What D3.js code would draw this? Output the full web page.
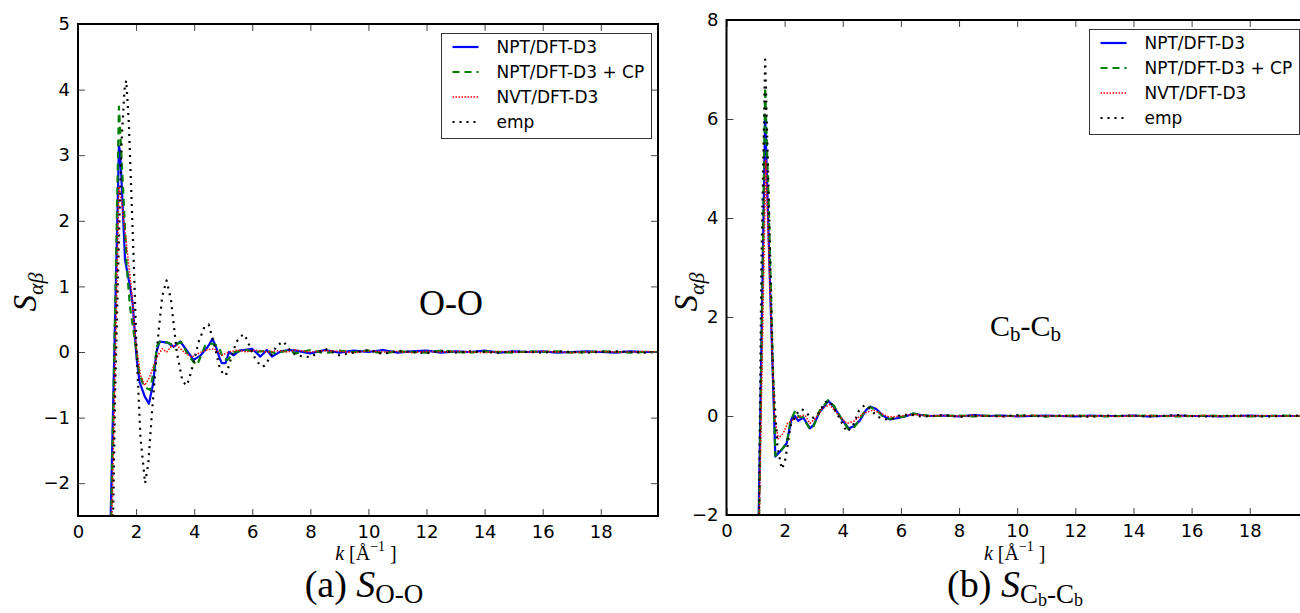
<!DOCTYPE html>
<html>
<head>
<meta charset="utf-8">
<script src="https://cdn.jsdelivr.net/npm/d3@7"></script>
<style>
body { margin: 0; background: #fff; }
svg text { font-family: "DejaVu Sans", sans-serif; }
svg text.serif { font-family: "Liberation Serif", "DejaVu Serif", serif; }
</style>
</head>
<body>
<script>
// values, k in 1/Angstrom
var xTicks = [0, 2, 4, 6, 8, 10, 12, 14, 16, 18];
var yTicksOO = [-2, -1, 0, 1, 2, 3, 4, 5];
var yTicksCC = [-2, 0, 2, 4, 6, 8];
var seriesNames = ["NPT/DFT-D3", "NPT/DFT-D3 + CP", "NVT/DFT-D3", "emp"];

// common k grid for the flat tails
var tailK = [7.5, 8, 8.5, 9, 9.5, 10, 10.5, 11, 11.5, 12, 12.5, 13, 13.5, 14, 14.5, 15, 15.5, 16, 16.5, 17, 17.5, 18, 18.5, 19, 19.5, 19.97];

// ---- O-O panel ----
var blueOO = [[1.05,-4.0],[1.41,3.14],[1.45,3.05],[1.5,2.6],[1.62,1.4],[1.79,1.0],[1.88,0.75],[2.02,-0.1],[2.12,-0.46],[2.3,-0.68],[2.44,-0.79],[2.58,-0.5],[2.7,0.0],[2.81,0.16],[2.95,0.15],[3.1,0.14],[3.3,0.08],[3.52,0.16],[3.7,0.05],[3.98,-0.12],[4.2,-0.06],[4.38,0.03],[4.5,0.1],[4.63,0.2],[4.75,0.08],[4.88,-0.1],[4.95,-0.17],[5.08,-0.17],[5.2,0.0],[5.36,-0.05],[5.55,0.02],[5.72,0.03],[5.99,0.05],[6.28,-0.07],[6.5,0.03],[6.68,-0.07],[6.98,0.01],[7.25,0.03]];
var blueOOtail = [0.02,-0.02,0.03,-0.01,0.02,0.0,0.03,-0.01,0.01,0.02,-0.01,0.01,0.0,0.02,-0.01,0.01,0.0,0.01,-0.01,0.0,0.01,0.0,-0.01,0.01,0.0,0.0];

var greenOO = [[1.08,-4.0],[1.41,3.74],[1.56,2.42],[1.68,1.3],[1.79,0.69],[1.97,0.13],[2.1,-0.3],[2.23,-0.48],[2.35,-0.55],[2.49,-0.58],[2.6,-0.3],[2.73,0.1],[2.85,0.17],[3.1,0.14],[3.3,0.1],[3.55,0.15],[3.8,-0.05],[3.98,-0.15],[4.1,-0.2],[4.38,0.1],[4.6,0.13],[4.84,0.09],[5.0,-0.1],[5.15,-0.12],[5.4,0.0],[5.8,0.03],[6.1,0.0],[6.5,0.02],[6.8,-0.02],[7.2,0.02]];
var greenOOtail = [-0.02,0.03,-0.02,0.02,0.0,0.02,-0.02,0.01,0.0,-0.01,0.02,0.0,-0.01,0.01,0.0,-0.01,0.01,0.0,0.01,-0.01,0.0,0.01,0.0,-0.01,0.0,0.0];

var redOO = [[1.1,-4.0],[1.41,2.52],[1.5,2.3],[1.68,1.6],[1.85,0.9],[2.0,0.1],[2.15,-0.35],[2.29,-0.51],[2.45,-0.4],[2.6,-0.22],[2.75,-0.05],[2.9,0.05],[3.05,0.0],[3.2,0.08],[3.4,0.1],[3.65,0.0],[3.9,-0.08],[4.15,-0.02],[4.4,0.03],[4.7,0.05],[4.95,-0.05],[5.2,0.0],[5.5,0.03],[5.8,0.0],[6.1,0.03],[6.5,0.0],[6.9,0.02],[7.2,0.0]];
var redOOtail = [0.03,0.0,0.02,0.01,-0.01,0.02,0.0,0.01,-0.01,0.01,0.0,0.01,0.0,-0.01,0.01,0.0,0.0,0.01,0.0,-0.01,0.0,0.01,0.0,0.0,0.01,0.0];

var empOO = [[1.15,-4.0],[1.28,-0.6],[1.39,1.4],[1.5,3.2],[1.6,4.0],[1.66,4.14],[1.75,3.5],[1.91,1.5],[2.02,0.0],[2.15,-1.3],[2.31,-2.0],[2.42,-1.7],[2.55,-0.9],[2.75,0.2],[2.9,0.85],[3.05,1.09],[3.2,0.8],[3.4,0.0],[3.6,-0.45],[3.75,-0.51],[3.9,-0.3],[4.15,0.15],[4.35,0.38],[4.5,0.42],[4.7,0.1],[4.9,-0.28],[5.09,-0.36],[5.3,-0.05],[5.45,0.15],[5.6,0.24],[5.73,0.27],[5.9,0.1],[6.1,-0.1],[6.3,-0.22],[6.43,-0.21],[6.65,-0.05],[6.85,0.1],[7.08,0.16],[7.25,0.05]];
var empOOtail = [-0.05,-0.08,0.05,-0.05,-0.01,0.03,-0.03,0.02,0.0,-0.02,0.02,-0.01,0.01,0.0,-0.01,0.01,0.0,-0.01,0.01,0.0,-0.01,0.0,0.01,0.0,-0.01,0.0];

// ---- Cb-Cb panel ----
var blueCC = [[1.08,-3.0],[1.33,6.07],[1.5,2.6],[1.68,-0.82],[1.9,-0.68],[2.07,-0.55],[2.24,-0.05],[2.35,0.0],[2.47,-0.1],[2.64,-0.03],[2.87,-0.25],[3.0,-0.18],[3.2,0.08],[3.35,0.18],[3.5,0.31],[3.7,0.18],[3.95,-0.05],[4.2,-0.25],[4.4,-0.2],[4.6,-0.08],[4.8,0.12],[4.94,0.19],[5.15,0.14],[5.4,0.0],[5.63,-0.07],[5.9,-0.04],[6.2,0.0],[6.43,0.05],[6.7,0.02],[7.0,0.0]];
var blueCCtail = [0.01,-0.01,0.02,0.0,0.01,-0.01,0.0,0.01,0.0,-0.01,0.01,0.0,0.0,0.01,-0.01,0.0,0.01,0.0,0.0,-0.01,0.0,0.01,0.0,0.0,0.0,0.0];

var greenCC = [[1.1,-3.0],[1.33,6.63],[1.45,4.3],[1.55,2.0],[1.68,-0.8],[1.9,-0.68],[2.07,-0.55],[2.2,-0.1],[2.36,0.1],[2.5,-0.02],[2.64,-0.03],[2.87,-0.27],[3.0,-0.2],[3.2,0.1],[3.5,0.32],[3.7,0.2],[3.95,-0.05],[4.2,-0.27],[4.4,-0.22],[4.6,-0.05],[4.8,0.14],[4.94,0.18],[5.15,0.12],[5.4,-0.02],[5.63,-0.06],[5.9,-0.03],[6.2,0.0],[6.43,0.05],[6.7,0.02],[7.0,0.0]];
var greenCCtail = [0.0,0.01,-0.01,0.01,0.0,0.0,0.01,-0.01,0.0,0.01,0.0,-0.01,0.0,0.0,0.01,0.0,-0.01,0.0,0.01,0.0,0.0,-0.01,0.0,0.01,0.0,0.0];

var redCC = [[1.1,-3.0],[1.35,5.18],[1.5,2.5],[1.65,0.0],[1.78,-0.46],[1.95,-0.35],[2.1,-0.15],[2.3,-0.07],[2.55,0.0],[2.7,0.02],[2.87,-0.15],[3.05,-0.05],[3.3,0.15],[3.55,0.23],[3.8,0.05],[4.14,-0.15],[4.4,-0.1],[4.7,0.05],[5.05,0.12],[5.3,0.05],[5.6,-0.02],[6.0,0.0],[6.4,0.03],[7.0,0.0]];
var redCCtail = [0.01,0.0,0.01,0.0,-0.01,0.0,0.01,0.0,0.0,0.01,0.0,0.0,-0.01,0.0,0.01,0.0,0.0,0.0,0.01,0.0,0.0,0.0,0.01,0.0,0.0,0.0];

var empCC = [[1.1,-3.0],[1.2,3.0],[1.33,7.2],[1.45,4.5],[1.6,0.8],[1.75,-0.6],[1.9,-1.07],[2.0,-0.95],[2.1,-0.6],[2.2,-0.2],[2.4,0.04],[2.59,0.14],[2.75,0.06],[2.95,-0.05],[3.15,0.05],[3.4,0.28],[3.55,0.3],[3.8,0.05],[4.14,-0.32],[4.35,-0.2],[4.55,0.1],[4.75,0.22],[4.95,0.15],[5.15,0.0],[5.35,-0.05],[5.6,-0.08],[5.95,0.01],[6.3,0.03],[6.7,-0.01],[7.1,0.0]];
var empCCtail = [0.02,-0.02,0.01,0.0,-0.01,0.02,0.0,-0.01,0.01,0.0,-0.02,0.01,0.0,0.01,-0.01,0.0,0.02,0.0,-0.01,0.0,0.01,0.0,-0.01,0.0,0.01,0.0];

function withTail(head, tail) {
    return head.concat(tailK.map(function(k, i) { return [k, tail[i]]; }));
}

// line styles in legend order
var styles = [
    {color: "#0000ff", width: 2.2, dash: null},
    {color: "#008000", width: 2.2, dash: "7,5"},
    {color: "#ff0000", width: 1.5, dash: "1.5,1.5"},
    {color: "#000000", width: 2.2, dash: "2,5"}
];

var svg = d3.select("body")
    .append("svg")
    .attr("width", 1300)
    .attr("height", 613);

var minus = function(d) { return d < 0 ? "\u2212" + Math.abs(d) : "" + d; };

function drawPanel(p) {
    var x = d3.scaleLinear().domain([0, 19.97]).range([p.left, p.right]);
    var y = d3.scaleLinear().domain(p.ydom).range([p.bottom, p.top]);

    var clipId = "clip-" + p.id;
    svg.append("clipPath").attr("id", clipId)
        .append("rect")
        .attr("x", p.left).attr("y", p.top)
        .attr("width", p.right - p.left).attr("height", p.bottom - p.top);

    var line = d3.line()
        .x(function(d) { return x(d[0]); })
        .y(function(d) { return y(d[1]); });

    var g = svg.append("g").attr("clip-path", "url(#" + clipId + ")");
    p.series.forEach(function(s, i) {
        g.append("path")
            .attr("d", line(s))
            .attr("fill", "none")
            .attr("stroke", styles[i].color)
            .attr("stroke-width", styles[i].width)
            .attr("stroke-dasharray", styles[i].dash)
            .attr("stroke-linejoin", "round");
    });

    // ticks point inward on all four sides
    svg.append("g")
        .attr("transform", "translate(0," + p.bottom + ")")
        .call(d3.axisBottom(x).tickValues(xTicks).tickSize(-7).tickPadding(8).tickFormat(minus))
        .call(function(a) {
            a.select(".domain").remove();
            a.selectAll("line").attr("stroke", "#444");
            a.selectAll("text").attr("font-size", 18).attr("fill", "#000").attr("dy", "0.75em")
                .attr("font-family", "DejaVu Sans");
        });
    svg.append("g")
        .attr("transform", "translate(0," + p.top + ")")
        .call(d3.axisTop(x).tickValues(xTicks).tickSize(-7).tickFormat(""))
        .call(function(a) { a.select(".domain").remove(); a.selectAll("line").attr("stroke", "#444"); });
    svg.append("g")
        .attr("transform", "translate(" + p.left + ",0)")
        .call(d3.axisLeft(y).tickValues(p.yticks).tickSize(-7).tickPadding(8).tickFormat(minus))
        .call(function(a) {
            a.select(".domain").remove();
            a.selectAll("line").attr("stroke", "#444");
            a.selectAll("text").attr("font-size", 18).attr("fill", "#000")
                .attr("font-family", "DejaVu Sans");
        });
    svg.append("g")
        .attr("transform", "translate(" + p.right + ",0)")
        .call(d3.axisRight(y).tickValues(p.yticks).tickSize(-7).tickFormat(""))
        .call(function(a) { a.select(".domain").remove(); a.selectAll("line").attr("stroke", "#444"); });

    svg.append("rect")
        .attr("x", p.left).attr("y", p.top)
        .attr("width", p.right - p.left).attr("height", p.bottom - p.top)
        .attr("fill", "none").attr("stroke", "#000").attr("stroke-width", 2);

    // legend
    var lg = svg.append("g").attr("transform", "translate(" + p.legend[0] + "," + p.legend[1] + ")");
    lg.append("rect")
        .attr("width", 210).attr("height", 105)
        .attr("fill", "#fff").attr("stroke", "#333").attr("stroke-width", 1);
    seriesNames.forEach(function(name, i) {
        var yy = 13.5 + i * 25;
        lg.append("line")
            .attr("x1", 11).attr("x2", 37).attr("y1", yy).attr("y2", yy)
            .attr("stroke", styles[i].color)
            .attr("stroke-width", styles[i].width)
            .attr("stroke-dasharray", styles[i].dash);
        lg.append("text")
            .attr("x", 55).attr("y", yy).attr("dy", "0.36em")
            .attr("font-size", 17)
            .text(name);
    });

    // y label S_{alpha beta}
    var yl = svg.append("text")
        .attr("class", "serif")
        .attr("transform", "translate(" + p.ylabelX + ",292) rotate(-90)")
        .attr("text-anchor", "middle")
        .attr("font-size", 33).attr("font-style", "italic");
    yl.append("tspan").text("S");
    yl.append("tspan").attr("font-size", 22).attr("dy", 7).text("\u03b1\u03b2");

    // x label k [A^-1]
    var xl = svg.append("text")
        .attr("class", "serif")
        .attr("x", (p.left + p.right) / 2 - 2).attr("y", 560)
        .attr("text-anchor", "middle")
        .attr("font-size", 20);
    xl.append("tspan").attr("font-style", "italic").text("k");
    xl.append("tspan").text(" [\u00c5");
    xl.append("tspan").attr("font-size", 14).attr("dy", -9).text("\u22121");
    xl.append("tspan").attr("dy", 9).text(" ]");
}

drawPanel({
    id: "oo", left: 78, right: 658, top: 24, bottom: 516, ydom: [-2.5, 5],
    yticks: yTicksOO, legend: [441.5, 33.5], ylabelX: 36,
    series: [withTail(blueOO, blueOOtail), withTail(greenOO, greenOOtail), withTail(redOO, redOOtail), withTail(empOO, empOOtail)]
});
drawPanel({
    id: "cc", left: 726.5, right: 1307, top: 20, bottom: 515, ydom: [-2, 8],
    yticks: yTicksCC, legend: [1089.5, 29.5], ylabelX: 697,
    series: [withTail(blueCC, blueCCtail), withTail(greenCC, greenCCtail), withTail(redCC, redCCtail), withTail(empCC, empCCtail)]
});

// annotations inside the panels
svg.append("text").attr("class", "serif")
    .attr("x", 419).attr("y", 315).attr("font-size", 36).text("O-O");
var cb = svg.append("text").attr("class", "serif")
    .attr("x", 990).attr("y", 336).attr("font-size", 30);
cb.append("tspan").text("C");
cb.append("tspan").attr("font-size", 21).attr("dy", 5).text("b");
cb.append("tspan").attr("dy", -5).text("-C");
cb.append("tspan").attr("font-size", 21).attr("dy", 5).text("b");

// sub-figure captions
var capA = svg.append("text").attr("class", "serif")
    .attr("x", 364).attr("y", 597).attr("font-size", 38).attr("text-anchor", "middle");
capA.append("tspan").text("(a) ");
capA.append("tspan").attr("font-style", "italic").text("S");
capA.append("tspan").attr("font-size", 27).attr("dy", 6).text("O-O");

var capB = svg.append("text").attr("class", "serif")
    .attr("x", 1015).attr("y", 597).attr("font-size", 38).attr("text-anchor", "middle");
capB.append("tspan").text("(b) ");
capB.append("tspan").attr("font-style", "italic").text("S");
capB.append("tspan").attr("font-size", 27).attr("dy", 6).text("C");
capB.append("tspan").attr("font-size", 18).attr("dy", 3).text("b");
capB.append("tspan").attr("font-size", 27).attr("dy", -3).text("-C");
capB.append("tspan").attr("font-size", 18).attr("dy", 3).text("b");
</script>
</body>
</html>
